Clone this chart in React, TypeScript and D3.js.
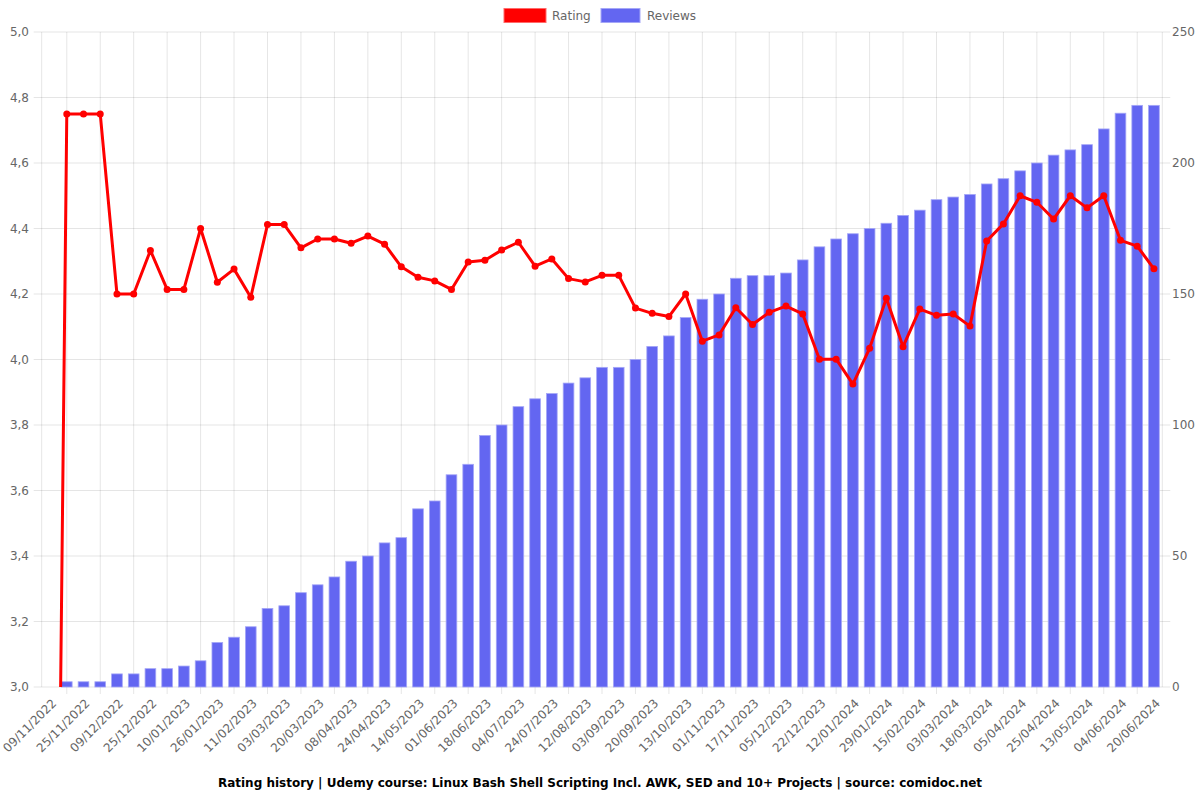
import React from "react";
import * as d3 from "d3";

const tickLabels = [
  "09/11/2022", "25/11/2022", "09/12/2022", "25/12/2022", "10/01/2023", "26/01/2023",
  "11/02/2023", "03/03/2023", "20/03/2023", "08/04/2023", "24/04/2023", "14/05/2023",
  "01/06/2023", "18/06/2023", "04/07/2023", "24/07/2023", "12/08/2023", "03/09/2023",
  "20/09/2023", "13/10/2023", "01/11/2023", "17/11/2023", "05/12/2023", "22/12/2023",
  "12/01/2024", "29/01/2024", "15/02/2024", "03/03/2024", "18/03/2024", "05/04/2024",
  "25/04/2024", "13/05/2024", "04/06/2024", "20/06/2024",
];

const ratings = [
  0, 4.75, 4.75, 4.75, 4.2, 4.2, 4.333, 4.214, 4.214, 4.4,
  4.236, 4.276, 4.19, 4.412, 4.412, 4.341, 4.368, 4.368, 4.355, 4.377,
  4.352, 4.283, 4.251, 4.24, 4.214, 4.298, 4.303, 4.334, 4.358, 4.285,
  4.307, 4.247, 4.237, 4.257, 4.257, 4.157, 4.141, 4.131, 4.2, 4.056,
  4.075, 4.158, 4.107, 4.144, 4.163, 4.139, 4.001, 4.001, 3.925, 4.034,
  4.187, 4.039, 4.154, 4.135, 4.139, 4.102, 4.362, 4.414, 4.5, 4.48,
  4.429, 4.5, 4.463, 4.5, 4.364, 4.346, 4.277,
];

const reviews = [
  0, 2, 2, 2, 5, 5, 7, 7, 8, 10,
  17, 19, 23, 30, 31, 36, 39, 42, 48, 50,
  55, 57, 68, 71, 81, 85, 96, 100, 107, 110,
  112, 116, 118, 122, 122, 125, 130, 134, 141, 148,
  150, 156, 157, 157, 158, 163, 168, 171, 173, 175,
  177, 180, 182, 186, 187, 188, 192, 194, 197, 200,
  203, 205, 207, 213, 219, 222, 222,
];

const leftTicks = [3.0, 3.2, 3.4, 3.6, 3.8, 4.0, 4.2, 4.4, 4.6, 4.8, 5.0];
const rightTicks = [0, 50, 100, 150, 200, 250];

const title =
  "Rating history | Udemy course: Linux Bash Shell Scripting Incl. AWK, SED and 10+ Projects | source: comidoc.net";

const FONT = "DejaVu Sans, sans-serif";
const GRID = "rgba(0,0,0,0.1)";
const TXT = "#666";
const RED = "#ff0000";
const BLUE = "#6366f1";

export default function App() {
  const W = 1200, H = 800;
  const left = 41.7, right = 1162.3, top = 32, bottom = 687;
  const idx = d3.range(ratings.length);
  const x = d3.scaleBand<number>().domain(idx).range([left, right]).padding(0);
  const cx = (i: number) => (x(i) as number) + x.bandwidth() / 2;
  const yL = d3.scaleLinear().domain([3, 5]).range([bottom, top]);
  const yR = d3.scaleLinear().domain([0, 250]).range([bottom, top]);
  const barW = 10.7;

  const line = d3.line<number>().x((i) => cx(i)).y((i) => yL(ratings[i]));

  const gridIdx = idx.filter((i) => i % 2 === 1);
  const labelIdx = idx.filter((i) => i % 2 === 0);

  return (
    <svg width={W} height={H} style={{ position: "fixed", left: 0, top: 0, background: "#fff" }} fontFamily={FONT}>
      <defs>
        <clipPath id="plot">
          <rect x={left} y={top} width={right - left} height={bottom - top} />
        </clipPath>
      </defs>
      {leftTicks.map((t) => (
        <line key={"h" + t} x1={left - 8} x2={right + 8} y1={yL(t)} y2={yL(t)} stroke={GRID} strokeWidth={1} />
      ))}
      <line x1={left} x2={left} y1={top} y2={bottom} stroke={GRID} />
      <line x1={right} x2={right} y1={top} y2={bottom} stroke={GRID} />
      {gridIdx.map((i) => (
        <line key={"v" + i} x1={cx(i)} x2={cx(i)} y1={top} y2={bottom + 7} stroke={GRID} />
      ))}
      {idx.map((i) =>
        reviews[i] > 0 ? (
          <rect
            key={"b" + i}
            x={cx(i) - barW / 2}
            y={yR(reviews[i])}
            width={barW}
            height={bottom - yR(reviews[i])}
            fill={BLUE}
            stroke="#a5a7f7"
            strokeWidth={0.8}
          />
        ) : null
      )}
      <g clipPath="url(#plot)">
        <path d={line(idx) as string} fill="none" stroke={RED} strokeWidth={3} strokeLinejoin="round" />
        {idx.map((i) => (
          <circle key={"p" + i} cx={cx(i)} cy={yL(ratings[i])} r={3.5} fill={RED} />
        ))}
      </g>
      {leftTicks.map((t) => (
        <text key={"l" + t} x={29} y={yL(t)} dy="0.35em" textAnchor="end" fontSize={12} fill={TXT}>
          {t.toFixed(1).replace(".", ",")}
        </text>
      ))}
      {rightTicks.map((t) => (
        <text key={"r" + t} x={1172} y={yR(t)} dy="0.35em" textAnchor="start" fontSize={12} fill={TXT}>
          {t}
        </text>
      ))}
      {labelIdx.map((i, k) => (
        <text
          key={"x" + i}
          transform={`translate(${cx(i) + 4},${701}) rotate(-45)`}
          textAnchor="end"
          dy="0.35em"
          fontSize={12}
          fill={TXT}
        >
          {tickLabels[k]}
        </text>
      ))}
      <rect x={504} y={8.5} width={42} height={14} fill={RED} stroke="#ff6a6a" strokeWidth={1} />
      <text x={552} y={16} dy="0.35em" fontSize={12} fill={TXT}>Rating</text>
      <rect x={601} y={8.5} width={39} height={14} fill={BLUE} stroke="#a5a7f7" strokeWidth={1} />
      <text x={647} y={16} dy="0.35em" fontSize={12} fill={TXT}>Reviews</text>
      <text x={600} y={783} dy="0.35em" textAnchor="middle" fontSize={12} fontWeight="bold" fill="#000">
        {title}
      </text>
    </svg>
  );
}
